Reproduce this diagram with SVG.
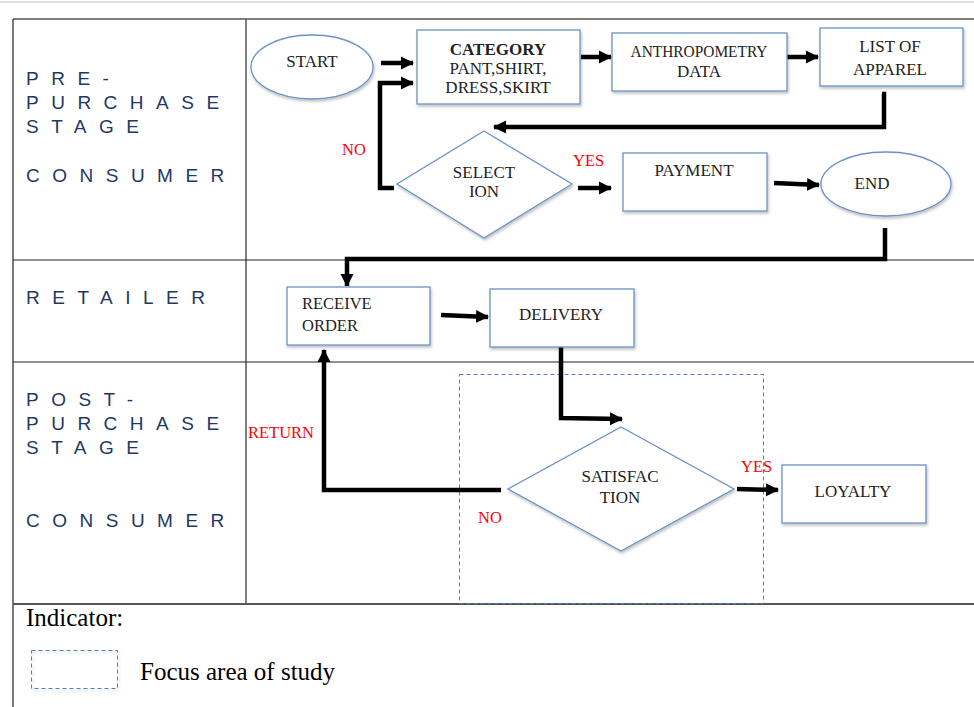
<svg xmlns="http://www.w3.org/2000/svg" width="974" height="707" viewBox="0 0 974 707">
<defs>
<style>
.lane{font-family:"Liberation Sans",Arial,sans-serif;font-size:19px;fill:#1f3864;letter-spacing:12.5px}
.t{font-family:"Liberation Serif","Times New Roman",serif;font-size:17px;fill:#222;text-anchor:middle}
.tl{font-family:"Liberation Serif","Times New Roman",serif;font-size:16.5px;fill:#222}
.red{font-family:"Liberation Serif","Times New Roman",serif;font-size:16.5px;fill:#ff0000}
.box{fill:#fff;stroke:#6b93c6;stroke-width:1.3}
.conn{fill:none;stroke:#000;stroke-width:4.5;stroke-linejoin:miter}
.grid{stroke:#222;stroke-width:1.2}
.dash{fill:none;stroke:#4f81bd;stroke-width:1;stroke-dasharray:4 3}
.leg{font-family:"Liberation Serif","Times New Roman",serif;font-size:25px;fill:#000}
</style>
<marker id="ah" markerUnits="userSpaceOnUse" markerWidth="14" markerHeight="14" refX="12" refY="7" orient="auto">
<path d="M0,0.5 L13,7 L0,13.5 Z" fill="#000"/>
</marker>
<filter id="sh" x="-10%" y="-10%" width="130%" height="140%">
<feDropShadow dx="1" dy="2" stdDeviation="1.5" flood-color="#000" flood-opacity="0.25"/>
</filter>
</defs>
<rect width="974" height="707" fill="#fff"/>
<line x1="0" y1="2" x2="974" y2="2" stroke="#d0d4dc" stroke-width="1.5"/>

<g id="table">
<line x1="13" y1="19" x2="974" y2="19" stroke="#555" stroke-width="1.5"/>
<line x1="13" y1="19" x2="13" y2="707" class="grid"/>
<line x1="246" y1="19" x2="246" y2="604" stroke="#555" stroke-width="1.5"/>
<line x1="13" y1="260" x2="974" y2="260" class="grid"/>
<line x1="13" y1="362" x2="974" y2="362" class="grid"/>
<line x1="13" y1="604" x2="974" y2="604" stroke="#555" stroke-width="2"/>
</g>

<g id="lanes">
<text class="lane" x="26" y="85">PRE-</text>
<text class="lane" x="26" y="109">PURCHASE</text>
<text class="lane" x="26" y="133">STAGE</text>
<text class="lane" x="26" y="182">CONSUMER</text>
<text class="lane" x="26" y="304">RETAILER</text>
<text class="lane" x="26" y="406">POST-</text>
<text class="lane" x="26" y="430">PURCHASE</text>
<text class="lane" x="26" y="454">STAGE</text>
<text class="lane" x="26" y="527">CONSUMER</text>
</g>

<g id="focus">
<rect class="dash" x="459.5" y="374.5" width="304" height="229"/>
</g>

<g id="connectors">
<line class="conn" x1="381" y1="63" x2="413" y2="63" marker-end="url(#ah)"/>
<polyline class="conn" points="394,188 380,188 380,83 413,83" marker-end="url(#ah)"/>
<line class="conn" x1="581" y1="57" x2="611" y2="57" marker-end="url(#ah)"/>
<line class="conn" x1="786" y1="57" x2="818" y2="57" marker-end="url(#ah)"/>
<polyline class="conn" points="882,94 884,94 884,127 494,127" marker-end="url(#ah)"/>
<line class="conn" x1="578" y1="188" x2="611" y2="188" marker-end="url(#ah)"/>
<line class="conn" x1="774" y1="183" x2="819" y2="185" marker-end="url(#ah)"/>
<polyline class="conn" points="885,228 885,259 347,259 347,286" marker-end="url(#ah)"/>
<line class="conn" x1="441" y1="315" x2="488" y2="317" marker-end="url(#ah)"/>
<polyline class="conn" points="561,347 561,418 622,419" marker-end="url(#ah)"/>
<polyline class="conn" points="501,490 324,490 324,350" marker-end="url(#ah)"/>
<line class="conn" x1="737" y1="489" x2="778" y2="490" marker-end="url(#ah)"/>
</g>

<g id="start">
<ellipse class="box" cx="312" cy="67" rx="61" ry="32" filter="url(#sh)"/>
<text class="t" x="312" y="67">START</text>
</g>
<g id="category">
<rect class="box" x="417" y="30" width="163" height="74" filter="url(#sh)"/>
<text class="t" x="498" y="55" font-weight="bold" font-size="18">CATEGORY</text>
<text class="t" x="498" y="74" font-size="14.5">PANT,SHIRT,</text>
<text class="t" x="498" y="93" font-size="14.5">DRESS,SKIRT</text>
</g>
<g id="anthropometry">
<rect class="box" x="612" y="33" width="175" height="58" filter="url(#sh)"/>
<text class="t" x="699" y="57" textLength="137" lengthAdjust="spacingAndGlyphs">ANTHROPOMETRY</text>
<text class="t" x="699" y="77">DATA</text>
</g>
<g id="list">
<rect class="box" x="820" y="28" width="143" height="58" filter="url(#sh)"/>
<text class="t" x="890" y="52">LIST OF</text>
<text class="t" x="890" y="75">APPAREL</text>
</g>
<g id="selection">
<polygon class="box" points="484,131 572,184 484,238 397,184" filter="url(#sh)"/>
<text class="t" x="484" y="178" font-size="12.5">SELECT</text>
<text class="t" x="484" y="197" font-size="12.5">ION</text>
</g>
<g id="payment">
<rect class="box" x="623" y="153" width="144" height="58" filter="url(#sh)"/>
<text class="t" x="694" y="176">PAYMENT</text>
</g>
<g id="end">
<ellipse class="box" cx="886" cy="184" rx="65" ry="32" filter="url(#sh)"/>
<text class="t" x="872" y="189">END</text>
</g>
<g id="receive">
<rect class="box" x="287" y="287" width="143" height="58" filter="url(#sh)"/>
<text class="tl" x="302" y="309">RECEIVE</text>
<text class="tl" x="302" y="331">ORDER</text>
</g>
<g id="delivery">
<rect class="box" x="490" y="289" width="144" height="58" filter="url(#sh)"/>
<text class="t" x="561" y="320">DELIVERY</text>
</g>
<g id="satisfaction">
<polygon class="box" points="621,427 734,489 621,551 508,489" filter="url(#sh)"/>
<text class="t" x="620" y="482" font-size="16.5">SATISFAC</text>
<text class="t" x="620" y="503" font-size="16.5">TION</text>
</g>
<g id="loyalty">
<rect class="box" x="782" y="465" width="144" height="58" filter="url(#sh)"/>
<text class="t" x="853" y="497">LOYALTY</text>
</g>

<g id="labels">
<text class="red" x="342" y="155">NO</text>
<text class="red" x="573" y="166">YES</text>
<text class="red" x="248" y="438">RETURN</text>
<text class="red" x="478" y="523">NO</text>
<text class="red" x="741" y="472" font-size="14.5">YES</text>
</g>

<g id="legend">
<text class="leg" x="26" y="626">Indicator:</text>
<rect class="dash" x="31.5" y="650.5" width="86" height="38" filter="url(#sh)"/>
<text class="leg" x="140" y="680">Focus area of study</text>
</g>
</svg>
